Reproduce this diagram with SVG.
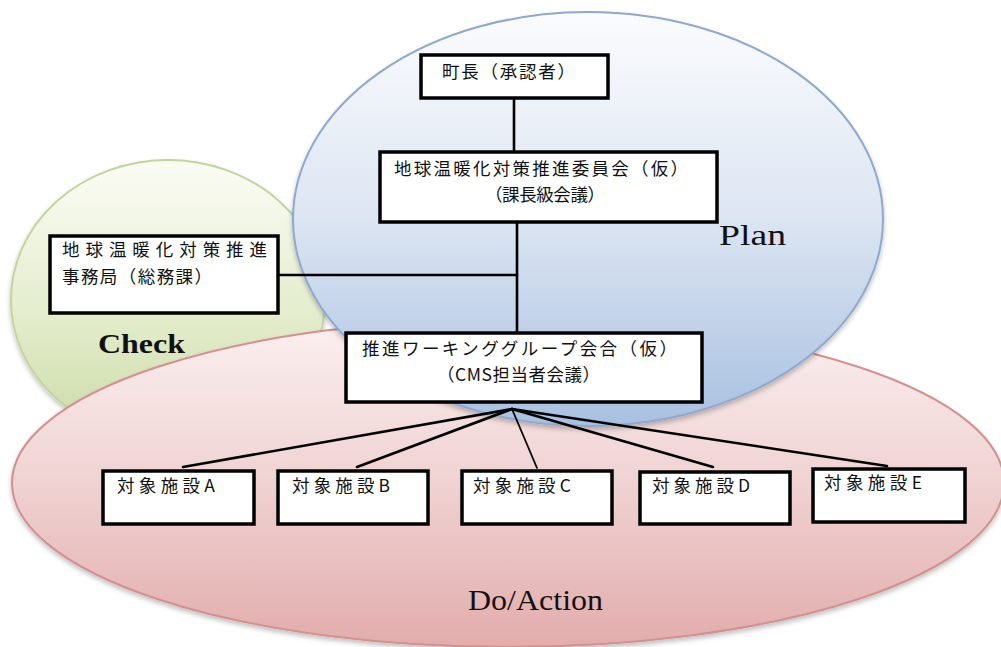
<svg xmlns="http://www.w3.org/2000/svg" width="1001" height="647" viewBox="0 0 1001 647">
  <defs>
    <linearGradient id="gCheck" x1="0" y1="0" x2="0" y2="1">
      <stop offset="0" stop-color="#fbfcf5"/>
      <stop offset="0.55" stop-color="#e4edcd"/>
      <stop offset="1" stop-color="#cbdaa6"/>
    </linearGradient>
    <linearGradient id="gPlan" x1="0" y1="0" x2="0" y2="1">
      <stop offset="0" stop-color="#fbfcfe"/>
      <stop offset="0.5" stop-color="#dce5f2"/>
      <stop offset="1" stop-color="#a8c0e0"/>
    </linearGradient>
    <linearGradient id="gDo" x1="0" y1="0" x2="0" y2="1">
      <stop offset="0" stop-color="#fbf0f0"/>
      <stop offset="0.5" stop-color="#f0d2d2"/>
      <stop offset="1" stop-color="#e2acac"/>
    </linearGradient>
    <filter id="soft" x="-10%" y="-10%" width="120%" height="125%">
      <feGaussianBlur in="SourceAlpha" stdDeviation="2.5"/>
      <feOffset dy="3" result="b"/>
      <feComponentTransfer><feFuncA type="linear" slope="0.25"/></feComponentTransfer>
      <feMerge><feMergeNode/><feMergeNode in="SourceGraphic"/></feMerge>
    </filter>
  </defs>
  <style>
    .box { fill: #ffffff; stroke: #000000; stroke-width: 3.5; }
    .jp { font-family: "Noto Sans CJK JP", "Noto Sans CJK SC", sans-serif; font-size: 17.5px; fill: #111111; }
    .lbl { font-family: "Liberation Serif", "DejaVu Serif", serif; fill: #111111; }
    .conn line { stroke: #000000; stroke-width: 2.6; stroke-linecap: round; }
  </style>

  <rect width="1001" height="647" fill="#ffffff"/>

  <!-- PDCA areas -->
  <g id="area-check">
    <ellipse cx="168" cy="300" rx="157" ry="140" fill="url(#gCheck)" stroke="#c3d59c" stroke-width="2" filter="url(#soft)"/>
  </g>
  <g id="area-do">
    <ellipse cx="508" cy="483" rx="496" ry="164" fill="url(#gDo)" stroke="#d4908f" stroke-width="2" filter="url(#soft)"/>
  </g>
  <g id="area-plan">
    <ellipse cx="588" cy="219" rx="295" ry="207" fill="url(#gPlan)" stroke="#8ea9cf" stroke-width="2" filter="url(#soft)"/>
  </g>

  <text class="lbl" x="98" y="353" font-size="27" font-weight="bold" textLength="87" lengthAdjust="spacingAndGlyphs">Check</text>
  <text class="lbl" x="719" y="245" font-size="29" textLength="67" lengthAdjust="spacingAndGlyphs">Plan</text>
  <text class="lbl" x="468" y="610" font-size="29" textLength="135" lengthAdjust="spacingAndGlyphs">Do/Action</text>

  <!-- connectors -->
  <g id="connectors" class="conn">
    <line x1="514" y1="98" x2="514" y2="152"/>
    <line x1="517" y1="222" x2="517" y2="333"/>
    <line x1="278" y1="275" x2="517" y2="275"/>
    <line x1="512" y1="409" x2="183" y2="467"/>
    <line x1="512" y1="409" x2="357" y2="467"/>
    <line x1="512" y1="409" x2="537" y2="468" style="stroke-width:1.8"/>
    <line x1="512" y1="409" x2="713" y2="467"/>
    <line x1="512" y1="409" x2="887" y2="466"/>
  </g>

  <!-- organisation nodes -->
  <g id="mayor">
    <rect class="box" x="421" y="55" width="187" height="43"/>
    <text class="jp" x="442" y="78" textLength="133">町長（承認者）</text>
  </g>
  <g id="committee">
    <rect class="box" x="380" y="152" width="337" height="70"/>
    <text class="jp" x="394" y="175" textLength="294">地球温暖化対策推進委員会（仮）</text>
    <text class="jp" x="485" y="201" textLength="120">（課長級会議）</text>
  </g>
  <g id="secretariat">
    <rect class="box" x="50" y="236" width="228" height="77"/>
    <text class="jp" x="62" y="256" textLength="205">地球温暖化対策推進</text>
    <text class="jp" x="62" y="283" textLength="150">事務局（総務課）</text>
  </g>
  <g id="working-group">
    <rect class="box" x="346" y="333" width="356" height="69"/>
    <text class="jp" x="362" y="355" textLength="315">推進ワーキンググループ会合（仮）</text>
    <text class="jp" x="437" y="381" textLength="163">（CMS担当者会議）</text>
  </g>
  <g id="facility-a">
    <rect class="box" x="103" y="471" width="151" height="53"/>
    <text class="jp" x="117" y="492" textLength="98">対象施設A</text>
  </g>
  <g id="facility-b">
    <rect class="box" x="278" y="471" width="150" height="53"/>
    <text class="jp" x="292" y="492" textLength="98">対象施設B</text>
  </g>
  <g id="facility-c">
    <rect class="box" x="462" y="471" width="150" height="53"/>
    <text class="jp" x="473" y="492" textLength="98">対象施設C</text>
  </g>
  <g id="facility-d">
    <rect class="box" x="640" y="472" width="150" height="52"/>
    <text class="jp" x="652" y="492" textLength="98">対象施設D</text>
  </g>
  <g id="facility-e">
    <rect class="box" x="813" y="469" width="152" height="53"/>
    <text class="jp" x="824" y="489" textLength="98">対象施設E</text>
  </g>
</svg>
